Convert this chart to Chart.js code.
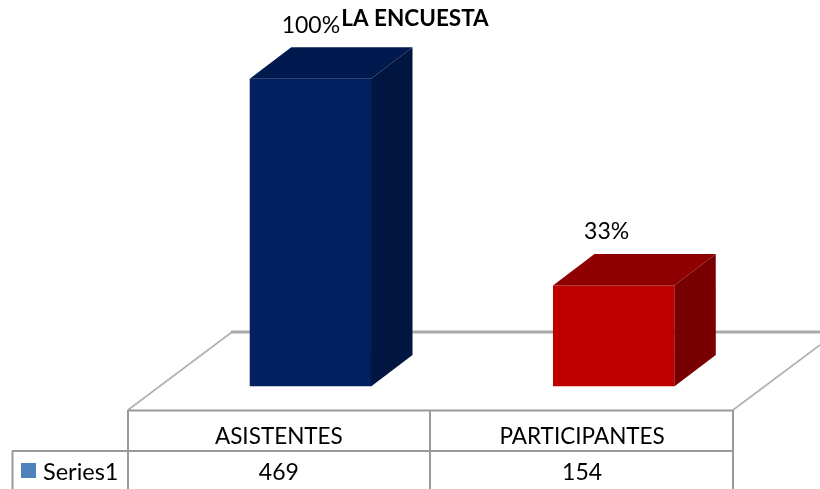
<!DOCTYPE html>
<html>
<head>
<meta charset="utf-8">
<style>html,body{margin:0;padding:0;background:#fff;overflow:hidden}canvas{display:block}</style>
<script src="https://cdn.jsdelivr.net/npm/chart.js@4"></script>
</head>
<body>
<canvas id="c" width="820" height="489"></canvas>
<script>
const titleText = 'LA ENCUESTA';
const categories = ['ASISTENTES', 'PARTICIPANTES'];
const seriesName = 'Series1';
const values = [469, 154];
const percentLabels = ['100%', '33%'];
const frontColors = ['#002060', '#c00000'];
const topColors = ['#001a4f', '#8f0000'];
const sideColors = ['#00153f', '#780000'];
const FONT = 'Lato, Carlito, sans-serif';
const DX = 41.5, DY = 31.5;

function line(ctx, pts, color, w) {
  ctx.save();
  ctx.strokeStyle = color; ctx.lineWidth = w;
  ctx.beginPath();
  pts.forEach((p, i) => i ? ctx.lineTo(p[0], p[1]) : ctx.moveTo(p[0], p[1]));
  ctx.stroke();
  ctx.restore();
}
function poly(ctx, pts, color) {
  ctx.fillStyle = color;
  ctx.beginPath();
  pts.forEach((p, i) => i ? ctx.lineTo(p[0], p[1]) : ctx.moveTo(p[0], p[1]));
  ctx.closePath();
  ctx.fill();
}
function text(ctx, s, x, y, font, align) {
  ctx.font = font; ctx.fillStyle = '#000';
  ctx.textAlign = align || 'center'; ctx.textBaseline = 'alphabetic';
  ctx.fillText(s, x, y);
}

const floorPlugin = {
  id: 'floor',
  beforeDatasetsDraw(chart) {
    const c = chart.ctx;
    line(c, [[128, 410], [232, 332]], '#b0b0b0', 1.6);
    line(c, [[231, 332], [820, 332]], '#aaaaaa', 3);
    line(c, [[733, 410], [820, 345]], '#b0b0b0', 1.6);
  }
};
const box3dPlugin = {
  id: 'box3d',
  afterDatasetsDraw(chart) {
    const c = chart.ctx;
    c.save();
    chart.getDatasetMeta(0).data.forEach((b, i) => {
      const l = b.x - b.width / 2, r = b.x + b.width / 2, t = b.y, bt = b.base;
      poly(c, [[l, t], [l + DX, t - DY], [r + DX, t - DY], [r, t]], topColors[i]);
      poly(c, [[r, t], [r + DX, t - DY], [r + DX, bt - DY], [r, bt]], sideColors[i]);
      text(c, percentLabels[i], b.x + [0.5, -7][i], t - 46, '23px ' + FONT);
    });
    c.restore();
  }
};
const tablePlugin = {
  id: 'table',
  afterDraw(chart) {
    const c = chart.ctx, xs = chart.scales.x;
    c.save();
    const col = '#9a9a9a';
    const cols = categories.map((_, i) => xs.getPixelForTick(i) - 31.5);
    line(c, [[128, 410.5], [733, 410.5]], col, 2);
    line(c, [[12, 451], [733, 451]], col, 2);
    line(c, [[128, 410], [128, 489]], col, 2);
    line(c, [[430, 410], [430, 489]], col, 2);
    line(c, [[733, 410], [733, 489]], col, 2);
    line(c, [[12.5, 451], [12.5, 489]], col, 2);
    categories.forEach((s, i) => text(c, s, cols[i], 443.5, '22.5px ' + FONT));
    values.forEach((v, i) => text(c, String(v), cols[i], 479.5, '23px ' + FONT));
    c.fillStyle = '#4f81bd';
    c.fillRect(21, 463, 15, 15);
    text(c, seriesName, 43, 479.5, '23.5px ' + FONT, 'left');
    text(c, titleText, 415, 26, 'bold 22.5px ' + FONT);
    c.restore();
  }
};

new Chart(document.getElementById('c'), {
  type: 'bar',
  data: {
    labels: categories,
    datasets: [{
      label: seriesName,
      data: values,
      backgroundColor: frontColors,
      borderWidth: 0,
      categoryPercentage: 1,
      barPercentage: 0.4
    }]
  },
  options: {
    responsive: false,
    animation: false,
    layout: { padding: { left: 158.75, right: 54.75, top: 58.5, bottom: 102.5 } },
    plugins: { legend: { display: false }, tooltip: { enabled: false }, title: { display: false } },
    scales: {
      x: { display: false },
      y: { display: false, min: 0, max: 500 }
    }
  },
  plugins: [floorPlugin, box3dPlugin, tablePlugin]
});
</script>
</body>
</html>
